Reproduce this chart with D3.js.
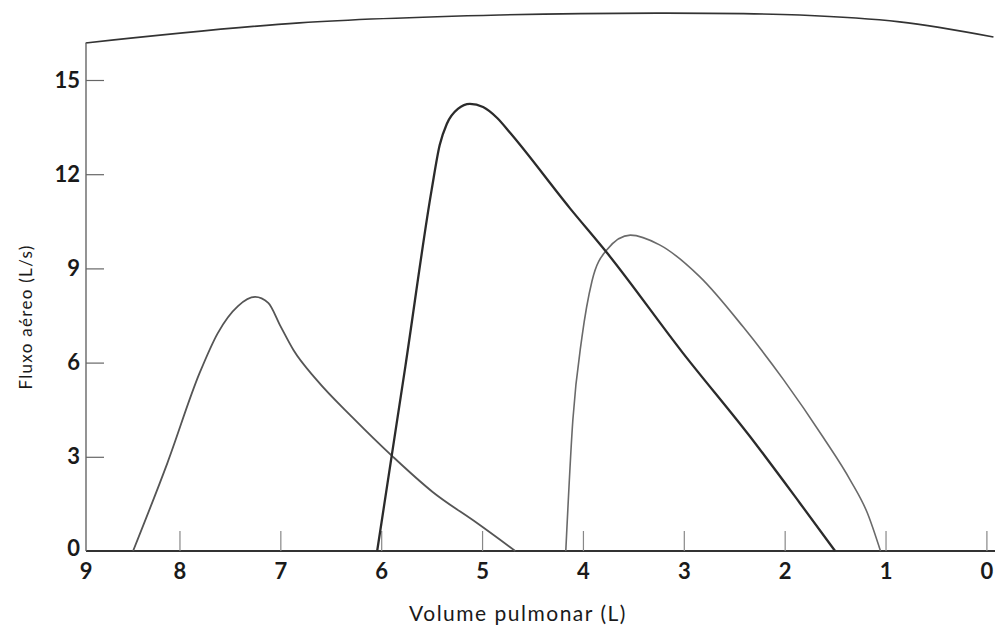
<!DOCTYPE html>
<html>
<head>
<meta charset="utf-8">
<script src="https://cdn.jsdelivr.net/npm/d3@7"></script>
<style>
  body { margin: 0; background: #fff; }
  svg { display: block; }
  .tick text { font-family: Lato, "Noto Sans", sans-serif; font-size: 22px; font-weight: 700; fill: #1a1a1a; }
  .title { font-family: Lato, "Noto Sans", sans-serif; fill: #1a1a1a; }
</style>
</head>
<body>
<svg id="chart"></svg>
<script>
// volume (L) vs airflow (L/s)
const curveLeft = [
  [8.46, 0], [8.12, 2.80], [7.80, 5.67], [7.62, 6.94], [7.42, 7.80], [7.25, 8.09],
  [7.12, 7.90], [7.00, 7.17], [6.87, 6.40], [6.64, 5.45], [6.28, 4.24],
  [5.88, 2.99], [5.49, 1.88], [5.05, 0.89], [4.67, 0]
];
const curveMiddle = [
  [6.04, 0], [5.76, 5.89], [5.50, 11.5], [5.42, 12.93], [5.35, 13.6], [5.24, 14.08],
  [5.12, 14.24], [4.99, 14.14], [4.85, 13.79], [4.72, 13.31], [4.13, 10.92],
  [3.76, 9.49], [3.01, 6.31], [2.34, 3.63], [1.85, 1.53], [1.50, 0]
];
const curveRight = [
  [4.17, 0], [4.10, 4.17], [4.01, 6.8], [3.91, 8.6], [3.76, 9.6], [3.53, 10.06],
  [3.24, 9.75], [2.84, 8.73], [2.41, 7.13], [2.01, 5.45], [1.62, 3.63], [1.35, 2.26],
  [1.18, 1.21], [1.05, 0]
];
// curved top edge of the scanned frame
const frameTop = [
  [8.93, 16.18], [6.81, 16.82], [4.82, 17.07], [3.17, 17.13], [1.85, 17.07], [0.86, 16.85], [-0.07, 16.37]
];
const xTicks = [9, 8, 7, 6, 5, 4, 3, 2, 1, 0];
const yTicks = [0, 3, 6, 9, 12, 15];

const width = 995, height = 628;
const axisX = 86; // left edge of the frame
const svg = d3.select("#chart").attr("width", width).attr("height", height);

const x = d3.scaleLinear().domain([9, 0]).range([78.6, 986.4]);
const y = d3.scaleLinear().domain([0, 15]).range([551, 80]);

const line = d3.line()
    .x(d => x(d[0]))
    .y(d => y(d[1]))
    .curve(d3.curveMonotoneX);

// frame top arc
svg.append("path")
    .attr("d", d3.line().x(d => x(d[0])).y(d => y(d[1])).curve(d3.curveCatmullRom)(frameTop))
    .attr("fill", "none")
    .attr("stroke", "#333")
    .attr("stroke-width", 1.6);

// x axis
const xAxis = svg.append("g")
    .attr("transform", `translate(0,${y(0)})`)
    .call(d3.axisBottom(x).tickValues(xTicks).tickSizeInner(-20).tickSizeOuter(0).tickPadding(12));
xAxis.select(".domain").attr("d", `M${axisX},0H${width}`).attr("stroke", "#333").attr("stroke-width", 1.8);
xAxis.selectAll(".tick line").attr("stroke", "#888").attr("stroke-width", 1.2);
xAxis.selectAll(".tick").filter(d => d === 9).attr("transform", `translate(${axisX},0)`).select("line").remove();

// y axis
const yAxis = svg.append("g")
    .attr("transform", `translate(${axisX},0)`)
    .call(d3.axisLeft(y).tickValues(yTicks).tickSizeInner(-18).tickSizeOuter(0).tickPadding(6));
yAxis.select(".domain").attr("d", `M0,${y(frameTop[0][1])}V${y(0)}`).attr("stroke", "#666").attr("stroke-width", 1.4);
yAxis.selectAll(".tick line").attr("stroke", "#666").attr("stroke-width", 1.2);
yAxis.selectAll(".tick").filter(d => d === 0).select("line").remove();
yAxis.selectAll(".tick").filter(d => d === 0).select("text").attr("dy", "0.2em");

// flow-volume curves
svg.append("path").attr("d", line(curveLeft))
    .attr("fill", "none").attr("stroke", "#555").attr("stroke-width", 1.8);
svg.append("path").attr("d", line(curveRight))
    .attr("fill", "none").attr("stroke", "#6a6a6a").attr("stroke-width", 1.6);
svg.append("path").attr("d", line(curveMiddle))
    .attr("fill", "none").attr("stroke", "#2b2b2b").attr("stroke-width", 2.3);

// titles
svg.append("text").attr("class", "title")
    .attr("x", 518).attr("y", 621)
    .attr("text-anchor", "middle").attr("font-size", 21)
    .attr("letter-spacing", 1.5)
    .text("Volume pulmonar (L)");
svg.append("text").attr("class", "title")
    .attr("transform", "translate(32,317) rotate(-90)")
    .attr("text-anchor", "middle").attr("font-size", 17)
    .attr("letter-spacing", 1.3)
    .text("Fluxo aéreo (L/s)");
</script>
</body>
</html>
